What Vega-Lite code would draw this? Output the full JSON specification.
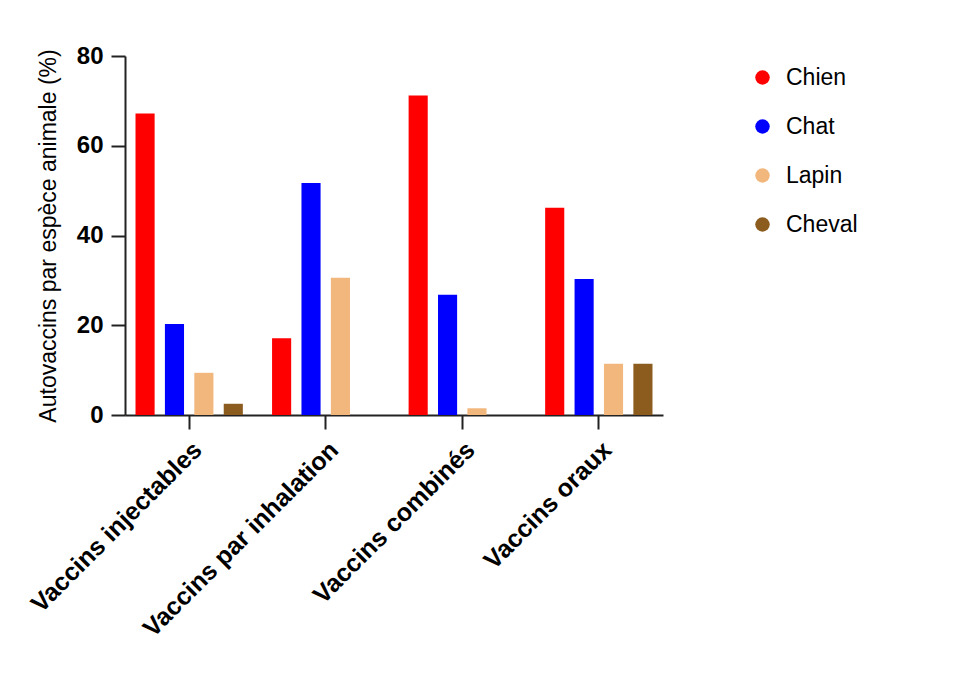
{
  "$schema": "https://vega.github.io/schema/vega-lite/v6.json",
  "width": 538,
  "height": 359,
  "autosize": {"type": "none"},
  "padding": {"left": 125, "top": 56, "right": 308, "bottom": 262},
  "background": "white",
  "config": {"view": {"stroke": null}, "font": "Liberation Sans"},
  "data": {
    "values": [
      {"voie": "Vaccins injectables", "espece": "Chien", "pct": 67.2},
      {"voie": "Vaccins injectables", "espece": "Chat", "pct": 20.3},
      {"voie": "Vaccins injectables", "espece": "Lapin", "pct": 9.4},
      {"voie": "Vaccins injectables", "espece": "Cheval", "pct": 2.5},
      {"voie": "Vaccins par inhalation", "espece": "Chien", "pct": 17.1},
      {"voie": "Vaccins par inhalation", "espece": "Chat", "pct": 51.7},
      {"voie": "Vaccins par inhalation", "espece": "Lapin", "pct": 30.6},
      {"voie": "Vaccins combinés", "espece": "Chien", "pct": 71.2},
      {"voie": "Vaccins combinés", "espece": "Chat", "pct": 26.8},
      {"voie": "Vaccins combinés", "espece": "Lapin", "pct": 1.5},
      {"voie": "Vaccins oraux", "espece": "Chien", "pct": 46.2},
      {"voie": "Vaccins oraux", "espece": "Chat", "pct": 30.3},
      {"voie": "Vaccins oraux", "espece": "Lapin", "pct": 11.4},
      {"voie": "Vaccins oraux", "espece": "Cheval", "pct": 11.4}
    ]
  },
  "mark": {"type": "bar"},
  "encoding": {
    "x": {
      "field": "voie",
      "type": "nominal",
      "sort": ["Vaccins injectables", "Vaccins par inhalation", "Vaccins combinés", "Vaccins oraux"],
      "scale": {"paddingInner": 0.214, "paddingOuter": 0.077},
      "axis": {
        "title": null,
        "labelAngle": -45,
        "labelFontSize": 25,
        "labelFontWeight": "bold",
        "labelColor": "black",
        "labelPadding": 8,
        "labelLimit": 0,
        "tickSize": 14,
        "tickWidth": 2,
        "tickColor": "#222222",
        "domainWidth": 2,
        "domainColor": "#222222"
      }
    },
    "xOffset": {
      "field": "espece",
      "sort": ["Chien", "Chat", "Lapin", "Cheval"],
      "scale": {"domain": ["Chien", "Chat", "Lapin", "Cheval"], "paddingInner": 0.35, "paddingOuter": 0}
    },
    "y": {
      "field": "pct",
      "type": "quantitative",
      "scale": {"domain": [0, 80]},
      "axis": {
        "title": "Autovaccins par espèce animale (%)",
        "values": [0, 20, 40, 60, 80],
        "grid": false,
        "tickSize": 14,
        "tickWidth": 2,
        "tickColor": "#222222",
        "domainWidth": 2,
        "domainColor": "#222222",
        "labelFontSize": 24,
        "labelFontWeight": "bold",
        "labelColor": "black",
        "labelPadding": 8,
        "titleFontSize": 23,
        "titleFontWeight": "normal",
        "titleColor": "black",
        "titlePadding": 16
      }
    },
    "color": {
      "field": "espece",
      "type": "nominal",
      "sort": ["Chien", "Chat", "Lapin", "Cheval"],
      "scale": {
        "domain": ["Chien", "Chat", "Lapin", "Cheval"],
        "range": ["#FF0000", "#0000FF", "#F2B77C", "#8C5B1E"]
      },
      "legend": {
        "title": null,
        "orient": "none",
        "legendX": 626,
        "legendY": 10,
        "padding": 0,
        "symbolType": "circle",
        "symbolSize": 210,
        "symbolStrokeWidth": 0,
        "symbolOpacity": 1,
        "labelFontSize": 23,
        "labelColor": "black",
        "labelOffset": 12,
        "rowPadding": 25
      }
    }
  }
}
